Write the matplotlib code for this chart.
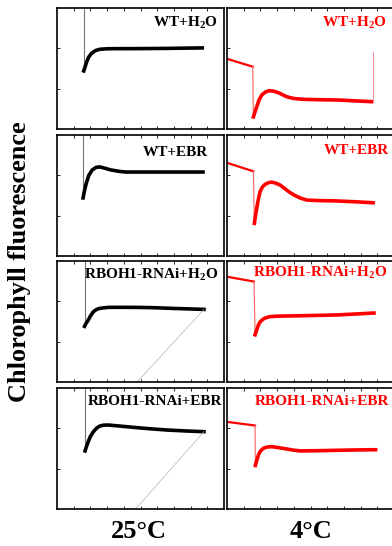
import matplotlib.pyplot as plt

plt.rcParams['font.family'] = 'Liberation Serif'
plt.rcParams['font.weight'] = 'bold'
plt.rcParams['mathtext.fontset'] = 'custom'
plt.rcParams['mathtext.rm'] = 'Liberation Serif:bold'
plt.rcParams['mathtext.it'] = 'Liberation Serif:bold'
plt.rcParams['mathtext.bf'] = 'Liberation Serif:bold'

# panel labels, row by row
labels = ['WT+H$_2$O', 'WT+EBR', 'RBOH1-RNAi+H$_2$O', 'RBOH1-RNAi+EBR']
temps = ['25°C', '4°C']

# 25 C traces (black): time of light pulse, then the induction curve
warm_drop = [0.16, 0.156, 0.165, 0.166]
warm_x = [
    [0.16, 0.165, 0.178, 0.19, 0.207, 0.23, 0.257, 0.3, 0.35, 0.45, 0.55, 0.65, 0.75, 0.87],
    [0.156, 0.163, 0.175, 0.19, 0.21, 0.235, 0.257, 0.28, 0.32, 0.37, 0.41, 0.55, 0.7, 0.874],
    [0.165, 0.172, 0.187, 0.2, 0.218, 0.237, 0.257, 0.307, 0.45, 0.557, 0.7, 0.88],
    [0.168, 0.175, 0.187, 0.2, 0.218, 0.237, 0.257, 0.28, 0.307, 0.38, 0.457, 0.557,
     0.657, 0.77, 0.88],
]
warm_y = [
    [0.48, 0.50, 0.556, 0.595, 0.626, 0.648, 0.659, 0.663, 0.664, 0.664, 0.665, 0.666,
     0.668, 0.67],
    [0.48, 0.53, 0.60, 0.665, 0.71, 0.733, 0.736, 0.728, 0.712, 0.70, 0.694, 0.694,
     0.694, 0.694],
    [0.46, 0.48, 0.512, 0.545, 0.581, 0.60, 0.609, 0.617, 0.617, 0.615, 0.608, 0.60],
    [0.48, 0.51, 0.556, 0.60, 0.639, 0.668, 0.686, 0.693, 0.694, 0.685, 0.675, 0.663,
     0.653, 0.645, 0.639],
]
# thin return line seen in the RNAi panels (end of trace -> bottom)
warm_back = [None, None, (0.48, 0.0), (0.47, 0.0)]

# 4 C traces (red): pre-pulse segment, then the curve after the drop
cold_pre_x = [[0.0, 0.154], [0.0, 0.158], [0.0, 0.162], [0.0, 0.168]]
cold_pre_y = [[0.58, 0.515], [0.77, 0.70], [0.87, 0.83], [0.72, 0.69]]
cold_x = [
    [0.158, 0.165, 0.178, 0.192, 0.208, 0.23, 0.253, 0.28, 0.308, 0.33, 0.357, 0.4,
     0.457, 0.557, 0.657, 0.76, 0.866],
    [0.164, 0.17, 0.178, 0.188, 0.198, 0.212, 0.228, 0.248, 0.268, 0.29, 0.317, 0.337,
     0.357, 0.38, 0.407, 0.44, 0.48, 0.55, 0.657, 0.77, 0.875],
    [0.168, 0.175, 0.188, 0.2, 0.218, 0.237, 0.257, 0.3, 0.457, 0.657, 0.77, 0.88],
    [0.17, 0.178, 0.188, 0.2, 0.218, 0.24, 0.268, 0.3, 0.357, 0.4, 0.44, 0.55, 0.657,
     0.77, 0.89],
]
cold_y = [
    [0.10, 0.13, 0.184, 0.24, 0.281, 0.305, 0.317, 0.312, 0.30, 0.285, 0.267, 0.252,
     0.245, 0.242, 0.24, 0.233, 0.226],
    [0.27, 0.33, 0.394, 0.47, 0.532, 0.57, 0.592, 0.606, 0.61, 0.603, 0.587, 0.567,
     0.545, 0.522, 0.50, 0.478, 0.462, 0.458, 0.455, 0.448, 0.44],
    [0.39, 0.42, 0.471, 0.50, 0.521, 0.533, 0.54, 0.544, 0.548, 0.554, 0.562, 0.57],
    [0.36, 0.40, 0.446, 0.478, 0.502, 0.512, 0.515, 0.509, 0.496, 0.486, 0.48, 0.482,
     0.485, 0.488, 0.49],
]
cold_end = [(0.872, 0.64), None, None, None]

W, H = 392.0, 546.0
fig = plt.figure(figsize=(3.92, 5.46), dpi=100)

row_top = [8, 135, 261, 388]
ph, pw = 121, 167
col_left = [57, 227]
lab_left = [(0.965, 0.845), (0.905, 0.83), (0.965, 0.85), (0.988, 0.86)]
lab_right = [(0.958, 0.845), (0.968, 0.84), (0.958, 0.87), (0.972, 0.86)]

def make_ax(left, top):
    ax = fig.add_axes([left / W, 1 - (top + ph) / H, pw / W, ph / H])
    ax.set_xlim(0, 1)
    ax.set_ylim(0, 1)
    ax.set_xticks([])
    ax.set_xticks([i / 10 for i in range(1, 10)], minor=True)
    ax.set_yticks([])
    ax.set_yticks([1 / 3, 2 / 3], minor=True)
    ax.tick_params(which='minor', direction='in', length=2, width=0.6,
                   top=True, bottom=True, left=True, right=False,
                   labelbottom=False, labelleft=False)
    for s in ax.spines.values():
        s.set_linewidth(1.2)
    return ax

for i in range(4):
    # 25 C
    ax = make_ax(col_left[0], row_top[i])
    ax.plot([warm_drop[i], warm_drop[i]], [1.2, warm_y[i][0]], color='0.45', lw=0.8)
    ax.plot(warm_x[i], warm_y[i], color='black', lw=2.6, solid_joinstyle='round')
    if warm_back[i] is not None:
        ax.plot([warm_x[i][-1], warm_back[i][0]], [warm_y[i][-1], warm_back[i][1]],
                color='0.7', lw=0.5)
    ax.text(lab_left[i][0], lab_left[i][1], labels[i], transform=ax.transAxes,
            ha='right', va='baseline', fontsize=11, fontweight='bold', color='black')

    # 4 C
    ax = make_ax(col_left[1], row_top[i])
    ax.plot(cold_pre_x[i], cold_pre_y[i], color='red', lw=1.6)
    ax.plot([cold_pre_x[i][1], cold_x[i][0]], [cold_pre_y[i][1], cold_y[i][0]],
            color='#ff7070', lw=0.9)
    ax.plot(cold_x[i], cold_y[i], color='red', lw=2.6, solid_joinstyle='round')
    if cold_end[i] is not None:
        ax.plot([cold_end[i][0], cold_end[i][0]], [cold_y[i][-1], cold_end[i][1]],
                color='#ff9090', lw=0.7)
    ax.text(lab_right[i][0], lab_right[i][1], labels[i], transform=ax.transAxes,
            ha='right', va='baseline', fontsize=11, fontweight='bold', color='red')

fig.text(20 / W, 1 - 262 / H, 'Chlorophyll fluorescence', rotation=90,
         ha='center', va='center', fontsize=19, fontweight='bold')
fig.text(139 / W, 1 - 532 / H, temps[0], ha='center', va='center',
         fontsize=19, fontweight='bold')
fig.text(311 / W, 1 - 532 / H, temps[1], ha='center', va='center',
         fontsize=19, fontweight='bold')

fig.savefig('out.png', dpi=100)
